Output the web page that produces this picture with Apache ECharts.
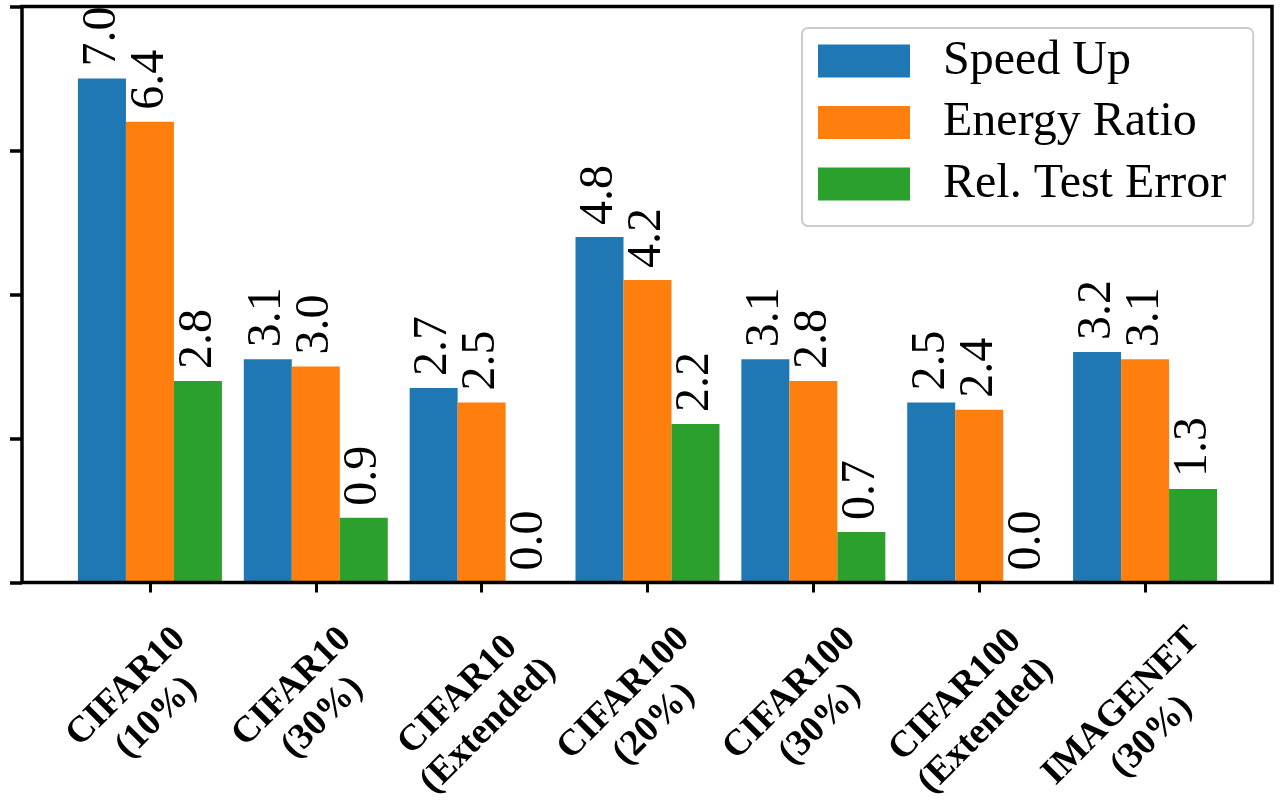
<!DOCTYPE html>
<html>
<head>
<meta charset="utf-8">
<script src="https://cdn.jsdelivr.net/npm/echarts@6/dist/echarts.min.js"></script>
<style>
html,body{margin:0;padding:0;background:#fff;}
#chart{width:1281px;height:805px;}
</style>
</head>
<body>
<div id="chart"></div>
<script>
const categories = ['CIFAR10\n(10%)', 'CIFAR10\n(30%)', 'CIFAR10\n(Extended)', 'CIFAR100\n(20%)', 'CIFAR100\n(30%)', 'CIFAR100\n(Extended)', 'IMAGENET\n(30%)'];
const seriesNames = ['Speed Up', 'Energy Ratio', 'Rel. Test Error'];
const speedUp = [7.0, 3.1, 2.7, 4.8, 3.1, 2.5, 3.2];
const energyRatio = [6.4, 3.0, 2.5, 4.2, 2.8, 2.4, 3.1];
const relTestError = [2.8, 0.9, 0.0, 2.2, 0.7, 0.0, 1.3];
const colors = ['#1f77b4', '#ff7f0e', '#2ca02c'];

const serif = '"Liberation Serif", "DejaVu Serif", serif';
const tickFont = 'bold 37px "Liberation Serif"';

// measure label block widths so all rotated labels are top-aligned (like matplotlib)
const ctx = document.createElement('canvas').getContext('2d');
ctx.font = tickFont;
const blockW = categories.map(c => Math.max.apply(null, c.split('\n').map(s => ctx.measureText(s).width)));
const minW = Math.min.apply(null, blockW);
const LEFT = 12;
const catData = categories.map((c, i) => {
  const d = (blockW[i] - minW) / 2;
  return {value: c, textStyle: {align: 'center', verticalAlign: 'middle', padding: [d, d + LEFT, LEFT, 0]}};
});

const chart = echarts.init(document.getElementById('chart'), null, {renderer: 'canvas'});

function barSeries(name, data, color) {
  return {
    name: name,
    type: 'bar',
    xAxisIndex: 0,
    yAxisIndex: 0,
    data: data,
    barWidth: 48,
    barGap: '0%',
    itemStyle: {color: color},
    label: {
      show: true,
      position: 'top',
      rotate: 90,
      align: 'left',
      verticalAlign: 'middle',
      distance: 12,
      padding: [20, 0, 0, 0],
      color: '#000',
      fontFamily: serif,
      fontSize: 48,
      formatter: p => p.value.toFixed(1)
    }
  };
}

chart.setOption({
  backgroundColor: '#ffffff',
  animation: false,
  grid: [
    {left: 67, right: 53, top: 6.5, bottom: 222.5, containLabel: false, outerBoundsMode: 'none'},
    {left: 22, right: 9, top: 6.5, bottom: 222.5, containLabel: false, outerBoundsMode: 'none', show: true, borderColor: '#000', borderWidth: 3.5, backgroundColor: 'transparent', z: 10}
  ],
  legend: {
    data: seriesNames,
    orient: 'vertical',
    left: 802,
    top: 28,
    icon: 'rect',
    itemWidth: 92,
    itemHeight: 33,
    itemGap: 13.5,
    padding: [9, 27, 18, 16],
    backgroundColor: '#ffffff',
    borderColor: '#cccccc',
    borderWidth: 2,
    borderRadius: 6,
    z: 20,
    textStyle: {fontFamily: serif, fontSize: 48, color: '#000', padding: [0, 0, 0, 28]}
  },
  xAxis: [
    {
      type: 'category',
      gridIndex: 0,
      data: catData,
      axisLine: {show: false},
      axisTick: {show: true, alignWithLabel: true, length: 10, lineStyle: {color: '#000', width: 3}},
      axisLabel: {
        interval: 0,
        rotate: 45,
        align: 'center',
        verticalAlign: 'middle',
        margin: 120,
        formatter: v => v.split('\n').map(s => '{a|' + s + '}').join('\n'),
        rich: {
          a: {fontFamily: '"Liberation Serif", serif', fontWeight: 'bold', fontSize: 37, lineHeight: 43, color: '#000', align: 'center'}
        }
      }
    },
    {type: 'value', gridIndex: 1, show: false, min: 0, max: 1}
  ],
  yAxis: [
    {type: 'value', gridIndex: 0, show: false, min: 0, max: 8, interval: 2},
    {
      type: 'value', gridIndex: 1, min: 0, max: 8, interval: 2, z: 10,
      axisLine: {show: false},
      axisTick: {show: true, length: 12, lineStyle: {color: '#000', width: 3.5}},
      axisLabel: {show: false},
      splitLine: {show: false}
    }
  ],
  series: [
    barSeries(seriesNames[0], speedUp, colors[0]),
    barSeries(seriesNames[1], energyRatio, colors[1]),
    barSeries(seriesNames[2], relTestError, colors[2])
  ]
});
</script>
</body>
</html>
